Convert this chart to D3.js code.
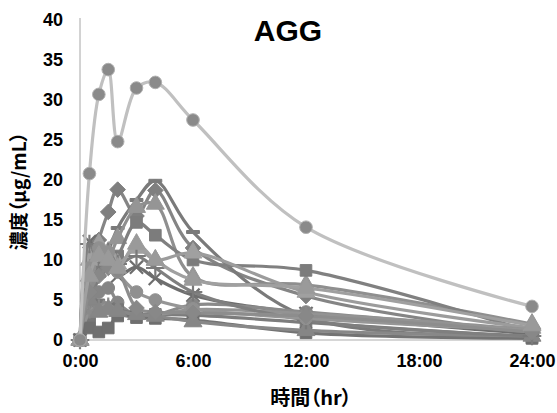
<!DOCTYPE html>
<html><head><meta charset="utf-8">
<script src="https://cdn.jsdelivr.net/npm/d3@7"></script>
<style>
html,body{margin:0;padding:0;background:#fff;}
svg{display:block;}
.tick-label{font-family:"Liberation Sans",Arial,sans-serif;font-weight:bold;font-size:18px;fill:#000;}
.cjk{font-family:"Noto Sans CJK JP","Noto Sans",sans-serif;font-weight:bold;font-feature-settings:"palt";fill:#000;}
</style></head>
<body>
<svg id="chart" width="557" height="413"></svg>
<script>
// ---- data ----
const times = [0, 0.5, 1, 1.5, 2, 3, 4, 6, 12, 24];          // hours
const xTickValues = [0, 6, 12, 18, 24];
const xTickLabels = ["0:00", "6:00", "12:00", "18:00", "24:00"];
const yTickValues = [0, 5, 10, 15, 20, 25, 30, 35, 40];
const chartTitle = "AGG";
const xTitle = "時間（hr）";
const yTitle = "濃度（μg/mL）";

const s01 = [0, 20.8, 30.7, 33.8, 24.8, 31.5, 32.2, 27.5, 14.1, 4.2];
const s02 = [0, 7.0, 12.5, 16.0, 18.8, 15.5, 18.7, 11.5, 5.5, 0.8];
const s03 = [0, 4.0, 8.0, 11.0, 14.0, 17.5, 19.9, 13.5, 2.9, 0.6];
const s04 = [0, 5.5, 11.6, 10.4, 12.7, 16.6, 17.0, 7.9, 6.9, 2.0];
const s05 = [0, 3.0, 9.0, 9.4, 10.5, 14.7, 13.1, 10.0, 8.7, 1.0];
const s06 = [0, 10.0, 12.0, 11.0, 9.5, 11.5, 10.0, 10.9, 6.0, 1.5];
const s07 = [0, 12.3, 10.5, 9.0, 8.0, 9.1, 7.7, 5.6, 3.3, 0.8];
const s08 = [0, 3.0, 6.0, 6.5, 4.7, 3.1, 3.1, 4.4, 3.5, 1.0];
const s09 = [0, 2.0, 4.4, 4.0, 3.8, 3.3, 3.2, 3.1, 2.2, 0.3];
const s10 = [0, 3.5, 4.3, 4.5, 3.6, 3.1, 3.1, 3.8, 3.3, 1.3];
const s11 = [0, 1.5, 1.0, 1.5, 3.0, 2.8, 2.7, 2.5, 0.9, 0.2];
const s12 = [0, 5.0, 3.5, 3.8, 3.6, 3.2, 3.0, 2.3, 1.2, 0.5];
const s13 = [0, 12.0, 10.0, 11.0, 9.5, 10.5, 9.0, 6.0, 2.5, 0.5];
const s14 = [0, 9.0, 11.5, 11.0, 8.5, 6.0, 5.0, 3.9, 2.7, 1.2];
const s15 = [0, 6.0, 8.0, 9.0, 8.7, 4.0, 3.5, 3.4, 3.0, 1.0];
const s16 = [0, 8.0, 10.5, 10.0, 9.0, 12.0, 10.0, 7.5, 6.5, 1.8];

const seriesValues = [s02, s03, s04, s05, s06, s07, s08, s09, s10, s11, s12, s13, s14, s15, s16, s01];
const seriesMarkers = ["diamond","dash","triangle","square","triangle","x","circle","square","star","square","triangle","plus","circle","diamond","triangle","circle"];
const seriesLineColors = ["#858585","#7a7a7a","#8f8f8f","#808080","#9c9c9c","#6e6e6e","#8a8a8a","#7c7c7c","#939393","#737373","#888888","#7f7f7f","#969696","#8d8d8d","#a0a0a0","#c0c0c0"];
const seriesMarkerColors = ["#7f7f7f","#7a7a7a","#959595","#7c7c7c","#a0a0a0","#6e6e6e","#858585","#777777","#8a8a8a","#6f6f6f","#868686","#7a7a7a","#909090","#888888","#9a9a9a","#8a8a8a"];

// ---- layout ----
const svg = d3.select("#chart");
const x = d3.scaleLinear().domain([0, 24]).range([80, 532]);
const y = d3.scaleLinear().domain([0, 40]).range([340, 20]);

// axes lines
svg.append("line").attr("x1", 80).attr("x2", 80).attr("y1", y(40) - 2).attr("y2", y(0))
  .attr("stroke", "#a6a6a6").attr("stroke-width", 1);
svg.append("line").attr("x1", 80).attr("x2", 537).attr("y1", y(0)).attr("y2", y(0))
  .attr("stroke", "#c8c8c8").attr("stroke-width", 1.5);

// tick labels
const yAxis = d3.axisLeft(y).tickValues(yTickValues).tickSize(0).tickPadding(17).tickFormat(d3.format("d"));
const gy = svg.append("g").attr("transform", "translate(80,0)").call(yAxis);
gy.select(".domain").remove();
gy.selectAll("text").attr("class", "tick-label").attr("fill", null);
gy.attr("font-size", null).attr("font-family", null);

const xAxis = d3.axisBottom(x).tickValues(xTickValues).tickSize(0).tickPadding(14)
  .tickFormat((d, i) => xTickLabels[i]);
const gx = svg.append("g").attr("transform", "translate(0,340)").call(xAxis);
gx.select(".domain").remove();
gx.selectAll("text").attr("class", "tick-label").attr("fill", null);
gx.attr("font-size", null).attr("font-family", null);

// titles
svg.append("text").attr("x", 288).attr("y", 41).attr("text-anchor", "middle")
  .style("font-family", '"Liberation Sans",Arial,sans-serif').style("font-weight", "bold").style("font-size", "30px")
  .text(chartTitle);
svg.append("text").attr("class", "cjk").attr("x", 311).attr("y", 405).attr("text-anchor", "middle")
  .style("font-size", "20px").text(xTitle);
svg.append("text").attr("class", "cjk").attr("transform", "translate(26,191) rotate(-90)")
  .attr("text-anchor", "middle").style("font-size", "19px").text(yTitle);

// markers
const dashSym = { draw(ctx, size) { const w = Math.sqrt(size) * 0.6; ctx.moveTo(-w, -1.5); ctx.lineTo(w, -1.5); ctx.lineTo(w, 1.5); ctx.lineTo(-w, 1.5); ctx.closePath(); } };
const symMap = {
  circle: d3.symbolCircle, square: d3.symbolSquare, diamond: d3.symbolDiamond2,
  triangle: d3.symbolTriangle, x: d3.symbolTimes, star: d3.symbolAsterisk, plus: d3.symbolPlus, dash: dashSym
};
const strokeOnly = new Set(["x", "star", "plus"]);

const line = d3.line().x(d => x(d[0])).y(d => y(d[1])).curve(d3.curveCatmullRom.alpha(0.5));

seriesValues.forEach((vals, i) => {
  const pts = times.map((t, k) => [t, vals[k]]);
  const g = svg.append("g");
  g.append("path").datum(pts).attr("d", line).attr("fill", "none")
    .attr("stroke", seriesLineColors[i]).attr("stroke-width", 3.2).attr("stroke-linejoin", "round");
  const m = seriesMarkers[i];
  const size = m === "circle" ? 125 : m === "square" ? 135 : m === "triangle" ? 140 : m === "diamond" ? 155 : 115;
  const sym = d3.symbol().type(symMap[m]).size(size);
  g.selectAll("path.mk").data(pts).join("path").attr("class", "mk")
    .attr("transform", d => `translate(${x(d[0])},${y(d[1])})`)
    .attr("d", sym)
    .attr("fill", strokeOnly.has(m) ? "none" : seriesMarkerColors[i])
    .attr("stroke", strokeOnly.has(m) ? seriesMarkerColors[i] : (i === seriesValues.length - 1 ? "#b0b0b0" : seriesMarkerColors[i]))
    .attr("stroke-width", strokeOnly.has(m) ? 2.2 : 1);
});
</script>
</body></html>
